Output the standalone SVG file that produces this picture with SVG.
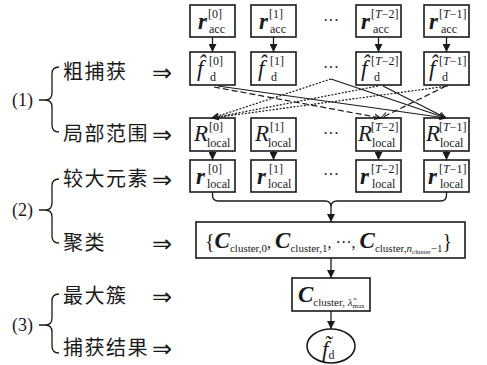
<svg xmlns="http://www.w3.org/2000/svg" width="487" height="365" viewBox="0 0 487 365">
  <style>
    .box { fill: #fff; stroke: #1a1a1a; stroke-width: 1.6; }
    .ln { fill: none; stroke: #1a1a1a; stroke-width: 1.3; }
    .sol { fill: none; stroke: #1a1a1a; stroke-width: 1.2; }
    .dsh { fill: none; stroke: #1a1a1a; stroke-width: 1.2; stroke-dasharray: 6 3; }
    .dot { fill: none; stroke: #1a1a1a; stroke-width: 1.2; stroke-dasharray: 2 1.5; }
    .brace { fill: none; stroke: #1a1a1a; stroke-width: 1.3; }
    text { fill: #1a1a1a; font-family: "Liberation Serif", "DejaVu Serif", serif; }
    .bi { font-weight: bold; font-style: italic; font-size: 23px; }
    .it { font-style: italic; font-size: 23px; }
    .sm { font-size: 12px; }
    .sb { font-size: 11px; }
    .xs { font-size: 7px; }
    .cn { font-family: "Noto Sans CJK SC", "Noto Sans", sans-serif; font-size: 20px; letter-spacing: 1.5px; }
    .lbl { font-size: 18px; }
    .arr { font-family: "DejaVu Sans", sans-serif; font-size: 24px; }
  </style>
  <defs>
    <marker id="ah" viewBox="0 0 10 10" refX="10" refY="5" markerWidth="8" markerHeight="8" markerUnits="userSpaceOnUse" orient="auto">
      <path d="M0,0 L10,5 L0,10 Z" fill="#1a1a1a"/>
    </marker>
    <marker id="vh" viewBox="0 0 10 10" refX="10" refY="5" markerWidth="7" markerHeight="7" markerUnits="userSpaceOnUse" orient="auto">
      <path d="M0,1 L10,5 L0,9" fill="none" stroke="#1a1a1a" stroke-width="1.4"/>
    </marker>
  </defs>

  <!-- step labels and braces -->
  <g id="labels">
    <text class="lbl" x="12" y="106">(1)</text>
    <path class="brace" d="M59,67 q-7,0 -7,7 V93 q0,7 -7,7 h-6 h6 q7,0 7,7 V125 q0,7 7,7"/>
    <text class="cn" x="63" y="79">粗捕获</text>
    <text class="arr" x="152" y="81">⇒</text>
    <text class="cn" x="63" y="141">局部范围</text>
    <text class="arr" x="152" y="143">⇒</text>

    <text class="lbl" x="12" y="216">(2)</text>
    <path class="brace" d="M59,179 q-7,0 -7,7 V203 q0,7 -7,7 h-6 h6 q7,0 7,7 V236 q0,7 7,7"/>
    <text class="cn" x="63" y="186">较大元素</text>
    <text class="arr" x="152" y="188">⇒</text>
    <text class="cn" x="63" y="250">聚类</text>
    <text class="arr" x="152" y="252">⇒</text>

    <text class="lbl" x="12" y="331">(3)</text>
    <path class="brace" d="M59,294 q-7,0 -7,7 V318 q0,7 -7,7 h-6 h6 q7,0 7,7 V346 q0,7 7,7"/>
    <text class="cn" x="63" y="303">最大簇</text>
    <text class="arr" x="152" y="305">⇒</text>
    <text class="cn" x="63" y="355">捕获结果</text>
    <text class="arr" x="152" y="357">⇒</text>
  </g>

  <!-- row: r_acc -->
  <g id="racc0"><rect class="box" x="190" y="5" width="45" height="32"/>
    <text class="bi" x="198" y="29">r</text><text class="sm" x="208" y="18">[0]</text><text class="sm" x="209" y="33">acc</text></g>
  <g id="racc1"><rect class="box" x="251" y="5" width="45" height="32"/>
    <text class="bi" x="259" y="29">r</text><text class="sm" x="269" y="18">[1]</text><text class="sm" x="270" y="33">acc</text></g>
  <g id="raccT2"><rect class="box" x="356" y="5" width="45" height="32"/>
    <text class="bi" x="361" y="29">r</text><text class="sm" x="371" y="18">[<tspan font-style="italic">T</tspan>−2]</text><text class="sm" x="373" y="33">acc</text></g>
  <g id="raccT1"><rect class="box" x="424" y="5" width="45" height="32"/>
    <text class="bi" x="429" y="29">r</text><text class="sm" x="439" y="18">[<tspan font-style="italic">T</tspan>−1]</text><text class="sm" x="441" y="33">acc</text></g>
  <text x="331" y="26" font-size="16" text-anchor="middle">···</text>

  <!-- row: coarse f_d (hat accent combined with f) -->
  <g id="fd0"><rect class="box" x="190" y="52" width="45" height="33"/>
    <text class="it" x="197" y="76">f̂</text><text class="sm" x="209" y="65">[0]</text><text class="sm" x="210" y="81">d</text></g>
  <g id="fd1"><rect class="box" x="251" y="52" width="45" height="33"/>
    <text class="it" x="258" y="76">f̂</text><text class="sm" x="270" y="65">[1]</text><text class="sm" x="271" y="81">d</text></g>
  <g id="fdT2"><rect class="box" x="356" y="52" width="45" height="33"/>
    <text class="it" x="361" y="76">f̂</text><text class="sm" x="371" y="65">[<tspan font-style="italic">T</tspan>−2]</text><text class="sm" x="374" y="81">d</text></g>
  <g id="fdT1"><rect class="box" x="424" y="52" width="45" height="33"/>
    <text class="it" x="429" y="76">f̂</text><text class="sm" x="439" y="65">[<tspan font-style="italic">T</tspan>−1]</text><text class="sm" x="442" y="81">d</text></g>
  <text x="331" y="73" font-size="16" text-anchor="middle">···</text>

  <!-- row: local range R -->
  <g id="R0"><rect class="box" x="190" y="118" width="45" height="33"/>
    <text class="it" x="194" y="141">R</text><text class="sm" x="209" y="131">[0]</text><text class="sm" x="207" y="147">local</text></g>
  <g id="R1"><rect class="box" x="251" y="118" width="45" height="33"/>
    <text class="it" x="255" y="141">R</text><text class="sm" x="270" y="131">[1]</text><text class="sm" x="268" y="147">local</text></g>
  <g id="RT2"><rect class="box" x="356" y="118" width="45" height="33"/>
    <text class="it" x="358" y="141">R</text><text class="sm" x="371" y="131">[<tspan font-style="italic">T</tspan>−2]</text><text class="sm" x="372" y="147">local</text></g>
  <g id="RT1"><rect class="box" x="424" y="118" width="45" height="33"/>
    <text class="it" x="426" y="141">R</text><text class="sm" x="439" y="131">[<tspan font-style="italic">T</tspan>−1]</text><text class="sm" x="440" y="147">local</text></g>
  <text x="331" y="139" font-size="16" text-anchor="middle">···</text>

  <!-- row: large elements r_local -->
  <g id="rl0"><rect class="box" x="190" y="160" width="45" height="32"/>
    <text class="bi" x="196" y="184">r</text><text class="sm" x="208" y="173">[0]</text><text class="sm" x="207" y="188">local</text></g>
  <g id="rl1"><rect class="box" x="251" y="160" width="45" height="32"/>
    <text class="bi" x="257" y="184">r</text><text class="sm" x="269" y="173">[1]</text><text class="sm" x="268" y="188">local</text></g>
  <g id="rlT2"><rect class="box" x="356" y="160" width="45" height="32"/>
    <text class="bi" x="360" y="184">r</text><text class="sm" x="371" y="173">[<tspan font-style="italic">T</tspan>−2]</text><text class="sm" x="372" y="188">local</text></g>
  <g id="rlT1"><rect class="box" x="424" y="160" width="45" height="32"/>
    <text class="bi" x="428" y="184">r</text><text class="sm" x="439" y="173">[<tspan font-style="italic">T</tspan>−1]</text><text class="sm" x="440" y="188">local</text></g>
  <text x="331" y="180" font-size="16" text-anchor="middle">···</text>

  <!-- cluster set -->
  <g id="clusters"><rect class="box" x="196" y="222" width="269" height="36"/>
    <text x="205" y="248"><tspan font-size="20">{</tspan><tspan class="bi">C</tspan><tspan class="sb" dy="4">cluster,0</tspan><tspan font-size="16" dy="-4">, </tspan><tspan class="bi">C</tspan><tspan class="sb" dy="4">cluster,1</tspan><tspan font-size="16" dy="-4">, ···, </tspan><tspan class="bi">C</tspan><tspan class="sb" dy="4">cluster,</tspan><tspan class="sb" font-style="italic">n</tspan><tspan class="xs" dy="2">cluster</tspan><tspan class="sb" dy="-2">−1</tspan><tspan font-size="20" dy="-4">}</tspan></text></g>

  <!-- largest cluster -->
  <g id="maxcluster"><rect class="box" x="292" y="278" width="78" height="33"/>
    <text x="298" y="302"><tspan class="bi">C</tspan><tspan class="sb" dy="4">cluster, </tspan><tspan font-size="11" font-style="italic">λ̃</tspan><tspan class="xs" dy="2">max</tspan></text></g>

  <!-- capture result -->
  <g id="result"><ellipse class="box" cx="331" cy="346" rx="24" ry="17"/>
    <text x="322" y="357"><tspan class="it">f̃</tspan><tspan class="sm" dy="2">d</tspan></text></g>

  <!-- connectors -->
  <g id="connectors">
    <line class="ln" x1="212.5" y1="37" x2="212.5" y2="52" marker-end="url(#ah)"/>
    <line class="ln" x1="273.5" y1="37" x2="273.5" y2="52" marker-end="url(#ah)"/>
    <line class="ln" x1="378.5" y1="37" x2="378.5" y2="52" marker-end="url(#ah)"/>
    <line class="ln" x1="446.5" y1="37" x2="446.5" y2="52" marker-end="url(#ah)"/>

    <line class="sol" x1="218" y1="86" x2="446" y2="118" marker-end="url(#vh)"/>
    <line class="sol" x1="331" y1="79" x2="446" y2="118" marker-end="url(#vh)"/>
    <line class="sol" x1="383" y1="86" x2="446" y2="118" marker-end="url(#vh)"/>
    <line class="dsh" x1="214" y1="87" x2="381" y2="118" marker-end="url(#vh)"/>
    <line class="dsh" x1="446" y1="86" x2="381" y2="118" marker-end="url(#vh)"/>
    <line class="dot" x1="331" y1="79" x2="212" y2="118" marker-end="url(#vh)"/>
    <line class="dot" x1="378" y1="86" x2="212" y2="118" marker-end="url(#vh)"/>
    <line class="dot" x1="448" y1="86" x2="212" y2="118" marker-end="url(#vh)"/>

    <line class="ln" x1="212.5" y1="151" x2="212.5" y2="160" marker-end="url(#ah)"/>
    <line class="ln" x1="273.5" y1="151" x2="273.5" y2="160" marker-end="url(#ah)"/>
    <line class="ln" x1="378.5" y1="151" x2="378.5" y2="160" marker-end="url(#ah)"/>
    <line class="ln" x1="446.5" y1="151" x2="446.5" y2="160" marker-end="url(#ah)"/>

    <path class="brace" d="M212.5,192 V195 q0,6 6,6 H325 q6,0 6,6 q0,-6 6,-6 H440.5 q6,0 6,-6 V192"/>
    <line class="ln" x1="331" y1="207" x2="331" y2="222" marker-end="url(#ah)"/>
    <line class="ln" x1="331" y1="258" x2="331" y2="278" marker-end="url(#ah)"/>
    <line class="ln" x1="331" y1="311" x2="331" y2="329" marker-end="url(#ah)"/>
  </g>
</svg>
